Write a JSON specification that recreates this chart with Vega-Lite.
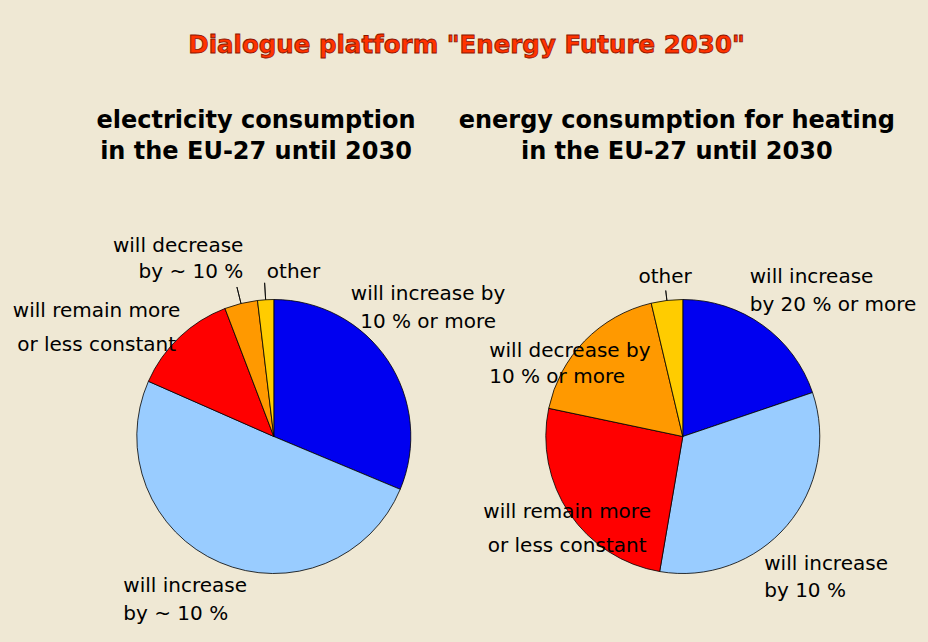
{
  "$schema": "https://vega.github.io/schema/vega-lite/v6.json",
  "description": "Dialogue platform Energy Future 2030: two pie charts on expected consumption in the EU-27",
  "width": 928,
  "height": 642,
  "autosize": {"type": "none"},
  "padding": 0,
  "background": "#EFE8D4",
  "config": {"view": {"stroke": null}, "text": {"font": "DejaVu Sans", "color": "#000000"}},
  "datasets": {
    "pies": [
      {"panel": "electricity", "key": "more", "rank": 1, "share": 31.3, "label": "will increase by\n10 % or more"},
      {"panel": "electricity", "key": "increase", "rank": 2, "share": 50.3, "label": "will increase\nby ~ 10 %"},
      {"panel": "electricity", "key": "constant", "rank": 3, "share": 12.6, "label": "will remain more\nor less constant"},
      {"panel": "electricity", "key": "decrease", "rank": 4, "share": 3.9, "label": "will decrease\nby ~ 10 %"},
      {"panel": "electricity", "key": "other", "rank": 5, "share": 1.9, "label": "other"},
      {"panel": "heating", "key": "more", "rank": 1, "share": 19.8, "label": "will increase\nby 20 % or more"},
      {"panel": "heating", "key": "increase", "rank": 2, "share": 32.9, "label": "will increase\nby 10 %"},
      {"panel": "heating", "key": "constant", "rank": 3, "share": 25.6, "label": "will remain more\nor less constant"},
      {"panel": "heating", "key": "decrease", "rank": 4, "share": 18.0, "label": "will decrease by\n10 % or more"},
      {"panel": "heating", "key": "other", "rank": 5, "share": 3.7, "label": "other"}
    ],
    "texts": [
      {"panel": "both", "heading": "Dialogue platform \"Energy Future 2030\""},
      {"panel": "electricity", "heading": "electricity consumption\nin the EU-27 until 2030"},
      {"panel": "heating", "heading": "energy consumption for heating\nin the EU-27 until 2030"}
    ]
  },
  "layer": [
    {
      "data": {"name": "texts"},
      "transform": [{"filter": "datum.panel === 'both'"}],
      "mark": {"type": "text", "fontSize": 24.5, "fontWeight": "bold", "fill": "#FF3300", "stroke": "#8B1500", "strokeWidth": 0.8, "align": "center", "baseline": "alphabetic", "dx": 2.5, "dy": -84.2},
      "encoding": {
        "y": {"datum": "heading", "type": "nominal", "scale": {"type": "point", "domain": ["heading", "pie"], "padding": 0.5707, "align": 0.3995}, "axis": null},
        "text": {"field": "heading"}
      }
    },
    {
      "data": {"name": "texts"},
      "transform": [{"filter": "datum.panel === 'electricity'"}],
      "mark": {"type": "text", "fontSize": 24, "fontWeight": "bold", "lineBreak": "\n", "lineHeight": 30.7, "align": "center", "baseline": "alphabetic", "dx": -17.8, "dy": -8.4},
      "encoding": {
        "x": {"field": "panel", "type": "nominal", "scale": {"type": "point", "domain": ["electricity", "heating"], "padding": 0.6345, "align": 0.52755}, "axis": null},
        "y": {"datum": "heading", "type": "nominal", "scale": {"type": "point", "domain": ["heading", "pie"], "padding": 0.5707, "align": 0.3995}, "axis": null},
        "text": {"field": "heading"}
      }
    },
    {
      "data": {"name": "texts"},
      "transform": [{"filter": "datum.panel === 'heating'"}],
      "mark": {"type": "text", "fontSize": 24, "fontWeight": "bold", "lineBreak": "\n", "lineHeight": 30.7, "align": "center", "baseline": "alphabetic", "dx": -6, "dy": -8.4},
      "encoding": {
        "x": {"field": "panel", "type": "nominal", "scale": {"type": "point", "domain": ["electricity", "heating"], "padding": 0.6345, "align": 0.52755}, "axis": null},
        "y": {"datum": "heading", "type": "nominal", "scale": {"type": "point", "domain": ["heading", "pie"], "padding": 0.5707, "align": 0.3995}, "axis": null},
        "text": {"field": "heading"}
      }
    },
    {
      "data": {"name": "pies"},
      "transform": [{"filter": "datum.panel === 'electricity'"}],
      "encoding": {
        "x": {"field": "panel", "type": "nominal", "scale": {"type": "point", "domain": ["electricity", "heating"], "padding": 0.6345, "align": 0.52755}, "axis": null},
        "y": {"datum": "pie", "type": "nominal", "scale": {"type": "point", "domain": ["heading", "pie"], "padding": 0.5707, "align": 0.3995}, "axis": null},
        "theta": {"field": "share", "type": "quantitative", "stack": "normalize"},
        "order": {"field": "rank", "type": "quantitative"},
        "detail": {"field": "key"}
      },
      "layer": [
        {
          "mark": {"type": "arc", "outerRadius": 137, "stroke": "#000000", "strokeWidth": 0.8},
          "encoding": {
            "color": {
              "field": "key",
              "type": "nominal",
              "scale": {"domain": ["more", "increase", "constant", "decrease", "other"], "range": ["#0000F0", "#99CCFF", "#FF0000", "#FF9900", "#FFCC00"]},
              "legend": null
            }
          }
        },
        {
          "mark": {"type": "arc", "innerRadius": 137, "outerRadius": 154, "padAngle": 3, "fillOpacity": 0, "stroke": "#000000", "strokeWidth": 0.8},
          "encoding": {"opacity": {"condition": {"test": "datum.key === 'other' || datum.key === 'decrease'", "value": 1}, "value": 0}}
        },
        {
          "mark": {"type": "text", "fontSize": 20, "lineBreak": "\n", "lineHeight": 27.7, "align": "center", "baseline": "alphabetic", "radius": 200, "dx": -12.2, "dy": -25.6},
          "encoding": {"text": {"condition": {"test": "datum.key === 'more'", "field": "label"}, "value": ""}}
        },
        {
          "mark": {"type": "text", "fontSize": 20, "lineBreak": "\n", "lineHeight": 28.3, "align": "left", "baseline": "alphabetic", "radius": 200, "dx": -71.6, "dy": -28.5},
          "encoding": {"text": {"condition": {"test": "datum.key === 'increase'", "field": "label"}, "value": ""}}
        },
        {
          "mark": {"type": "text", "fontSize": 20, "lineBreak": "\n", "lineHeight": 34.3, "align": "center", "baseline": "alphabetic", "radius": 200, "dx": -39.4, "dy": 25.2},
          "encoding": {"text": {"condition": {"test": "datum.key === 'constant'", "field": "label"}, "value": ""}}
        },
        {
          "mark": {"type": "text", "fontSize": 20, "lineBreak": "\n", "lineHeight": 25.4, "align": "right", "baseline": "alphabetic", "radius": 180, "dx": 12.7, "dy": -9.4},
          "encoding": {"text": {"condition": {"test": "datum.key === 'decrease'", "field": "label"}, "value": ""}}
        },
        {
          "mark": {"type": "text", "fontSize": 20, "align": "center", "baseline": "alphabetic", "radius": 165, "dx": 29.5, "dy": 6.5},
          "encoding": {"text": {"condition": {"test": "datum.key === 'other'", "field": "label"}, "value": ""}}
        }
      ]
    },
    {
      "data": {"name": "pies"},
      "transform": [{"filter": "datum.panel === 'heating'"}],
      "encoding": {
        "x": {"field": "panel", "type": "nominal", "scale": {"type": "point", "domain": ["electricity", "heating"], "padding": 0.6345, "align": 0.52755}, "axis": null},
        "y": {"datum": "pie", "type": "nominal", "scale": {"type": "point", "domain": ["heading", "pie"], "padding": 0.5707, "align": 0.3995}, "axis": null},
        "theta": {"field": "share", "type": "quantitative", "stack": "normalize"},
        "order": {"field": "rank", "type": "quantitative"},
        "detail": {"field": "key"}
      },
      "layer": [
        {
          "mark": {"type": "arc", "outerRadius": 137, "stroke": "#000000", "strokeWidth": 0.8},
          "encoding": {
            "color": {
              "field": "key",
              "type": "nominal",
              "scale": {"domain": ["more", "increase", "constant", "decrease", "other"], "range": ["#0000F0", "#99CCFF", "#FF0000", "#FF9900", "#FFCC00"]},
              "legend": null
            }
          }
        },
        {
          "mark": {"type": "arc", "innerRadius": 137, "outerRadius": 147, "padAngle": 3, "fillOpacity": 0, "stroke": "#000000", "strokeWidth": 0.8},
          "encoding": {"opacity": {"condition": {"test": "datum.key === 'other'", "value": 1}, "value": 0}}
        },
        {
          "mark": {"type": "text", "fontSize": 20, "lineBreak": "\n", "lineHeight": 27.7, "align": "left", "baseline": "alphabetic", "radius": 160, "dx": -26.3, "dy": -23.2},
          "encoding": {"text": {"condition": {"test": "datum.key === 'more'", "field": "label"}, "value": ""}}
        },
        {
          "mark": {"type": "text", "fontSize": 20, "lineBreak": "\n", "lineHeight": 26.7, "align": "left", "baseline": "alphabetic", "radius": 160, "dx": -40.2, "dy": 29.6},
          "encoding": {"text": {"condition": {"test": "datum.key === 'increase'", "field": "label"}, "value": ""}}
        },
        {
          "mark": {"type": "text", "fontSize": 20, "lineBreak": "\n", "lineHeight": 33.4, "align": "center", "baseline": "alphabetic", "radius": 150, "dx": 8.4, "dy": -2.5},
          "encoding": {"text": {"condition": {"test": "datum.key === 'constant'", "field": "label"}, "value": ""}}
        },
        {
          "mark": {"type": "text", "fontSize": 20, "lineBreak": "\n", "lineHeight": 26.6, "align": "left", "baseline": "alphabetic", "radius": 100, "dx": -122, "dy": -10},
          "encoding": {"text": {"condition": {"test": "datum.key === 'decrease'", "field": "label"}, "value": ""}}
        },
        {
          "mark": {"type": "text", "fontSize": 20, "align": "center", "baseline": "alphabetic", "radius": 160, "dx": 0.8, "dy": 5.7},
          "encoding": {"text": {"condition": {"test": "datum.key === 'other'", "field": "label"}, "value": ""}}
        }
      ]
    }
  ]
}
